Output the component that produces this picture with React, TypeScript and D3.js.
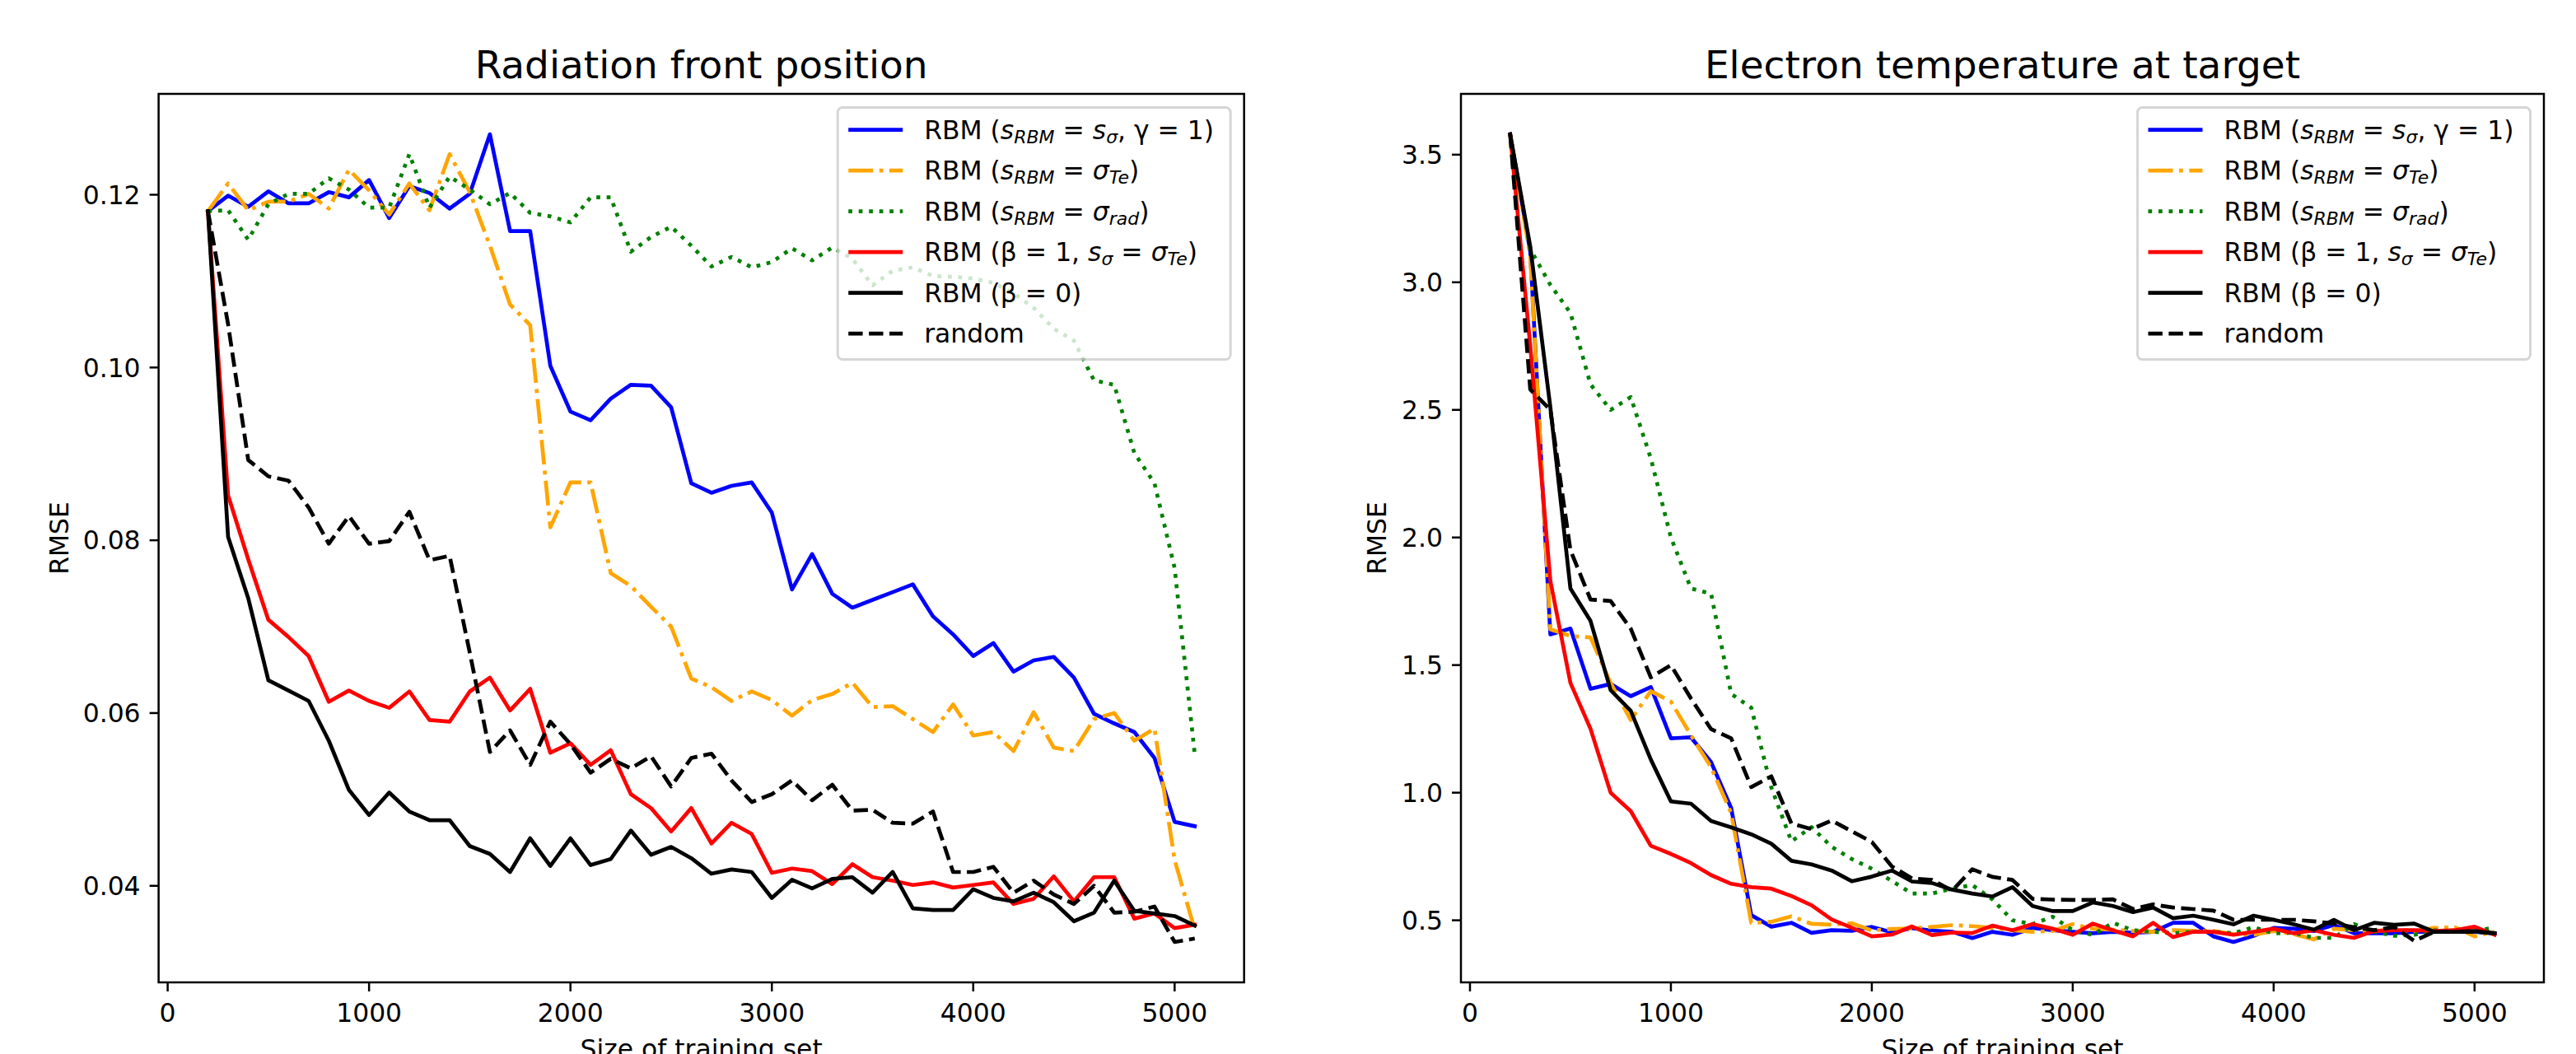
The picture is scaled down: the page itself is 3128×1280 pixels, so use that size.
import * as d3 from "d3";
import React from "react";

// training set sizes (x values shared by every curve)
const sizes = [
  200, 300, 400, 500, 600, 700, 800, 900, 1000, 1100,
  1200, 1300, 1400, 1500, 1600, 1700, 1800, 1900, 2000, 2100,
  2200, 2300, 2400, 2500, 2600, 2700, 2800, 2900, 3000, 3100,
  3200, 3300, 3400, 3500, 3600, 3700, 3800, 3900, 4000, 4100,
  4200, 4300, 4400, 4500, 4600, 4700, 4800, 4900, 5000, 5100,
];

// --- Radiation front position ---
const radGamma = [
  0.1181, 0.1199, 0.1186, 0.1204, 0.119, 0.119, 0.1203, 0.1197, 0.1217, 0.1173,
  0.121, 0.1202, 0.1184, 0.1201, 0.127, 0.1158, 0.1158, 0.1002, 0.0949, 0.0939,
  0.0964, 0.098, 0.0979, 0.0954, 0.0866, 0.0855, 0.0863, 0.0867, 0.0832, 0.0743,
  0.0784, 0.0738, 0.0722, 0.0731, 0.074, 0.0749, 0.0712, 0.0691, 0.0666, 0.0681,
  0.0648, 0.0661, 0.0665, 0.0641, 0.0599, 0.0588, 0.0578, 0.0548, 0.0474, 0.0469,
];
const radSigTe = [
  0.1181, 0.1213, 0.1182, 0.1192, 0.1192, 0.1201, 0.1184, 0.1229, 0.1205, 0.1177,
  0.1213, 0.1182, 0.1247, 0.1203, 0.1141, 0.1073, 0.1049, 0.0815, 0.0867, 0.0867,
  0.0762, 0.0747, 0.0723, 0.07, 0.064, 0.063, 0.0614, 0.0625, 0.0615, 0.0597,
  0.0615, 0.0622, 0.0635, 0.0607, 0.0608, 0.0593, 0.0578, 0.061, 0.0574, 0.0578,
  0.0556, 0.0601, 0.056, 0.0556, 0.0593, 0.06, 0.0568, 0.0582, 0.043, 0.0349,
];
const radSigRad = [
  0.1181, 0.1182, 0.1148, 0.1189, 0.1201, 0.1201, 0.1219, 0.1206, 0.1185, 0.1185,
  0.1247, 0.1185, 0.1221, 0.1206, 0.1189, 0.1202, 0.1179, 0.1175, 0.1168, 0.1197,
  0.1197, 0.1134, 0.1151, 0.1163, 0.1141, 0.1117, 0.1128, 0.1116, 0.1122, 0.1138,
  0.1124, 0.1139, 0.1126, 0.1095, 0.1112, 0.1116, 0.1106, 0.1105, 0.1103, 0.1098,
  0.1086, 0.1069, 0.1045, 0.1031, 0.0985, 0.098, 0.0901, 0.0866, 0.0768, 0.0552,
];
const radBeta1 = [
  0.1181, 0.0852, 0.0778, 0.0708, 0.0688, 0.0666, 0.0613, 0.0626, 0.0614, 0.0606,
  0.0625, 0.0592, 0.059, 0.0625, 0.0641, 0.0603, 0.0628, 0.0554, 0.0565, 0.054,
  0.0557, 0.0506, 0.049, 0.0463, 0.049, 0.0449, 0.0473, 0.046, 0.0415, 0.042,
  0.0417, 0.0402, 0.0425, 0.041, 0.0406, 0.0401, 0.0404, 0.0398, 0.0401, 0.0404,
  0.0379, 0.0385, 0.0411, 0.0382, 0.041, 0.041, 0.0362, 0.0368, 0.0351, 0.0355,
];
const radBeta0 = [
  0.1181, 0.0804, 0.0733, 0.0638, 0.0626, 0.0614, 0.0568, 0.0511, 0.0482, 0.0508,
  0.0486, 0.0476, 0.0476, 0.0446, 0.0437, 0.0416, 0.0455, 0.0423, 0.0455, 0.0424,
  0.0431, 0.0464, 0.0436, 0.0445, 0.0432, 0.0414, 0.0419, 0.0416, 0.0386, 0.0407,
  0.0397, 0.0408, 0.041, 0.0392, 0.0416, 0.0374, 0.0372, 0.0372, 0.0396, 0.0386,
  0.0382, 0.0392, 0.0381, 0.0359, 0.0369, 0.0406, 0.0371, 0.0368, 0.0365, 0.0354,
];
const radRandom = [
  0.1181, 0.105, 0.0893, 0.0874, 0.0869, 0.0838, 0.0796, 0.0828, 0.0796, 0.0799,
  0.0833, 0.0777, 0.0782, 0.067, 0.0555, 0.058, 0.054, 0.059, 0.0564, 0.0531,
  0.0547, 0.0536, 0.055, 0.0515, 0.0548, 0.0553, 0.0522, 0.0497, 0.0506, 0.0522,
  0.0499, 0.0517, 0.0487, 0.0488, 0.0473, 0.0472, 0.0486, 0.0416, 0.0416, 0.0422,
  0.0392, 0.0406, 0.039, 0.0379, 0.04, 0.0369, 0.037, 0.0376, 0.0335, 0.0339,
];

// --- Electron temperature at target ---
const teGamma = [
  3.58, 3.12, 1.62, 1.643, 1.407, 1.426, 1.378, 1.414, 1.213, 1.217,
  1.12, 0.94, 0.52, 0.475, 0.49, 0.451, 0.461, 0.459, 0.474, 0.453,
  0.469, 0.46, 0.455, 0.43, 0.455, 0.443, 0.47, 0.461, 0.455, 0.449,
  0.455, 0.451, 0.455, 0.49, 0.49, 0.437, 0.415, 0.439, 0.47, 0.467,
  0.458, 0.482, 0.449, 0.449, 0.449, 0.455, 0.455, 0.455, 0.455, 0.449,
];
const teSigTe = [
  3.58, 3.1, 1.64, 1.614, 1.608, 1.43, 1.285, 1.398, 1.357, 1.225,
  1.1, 0.92, 0.49, 0.494, 0.516, 0.486, 0.483, 0.488, 0.46, 0.466,
  0.468, 0.474, 0.481, 0.477, 0.471, 0.461, 0.455, 0.458, 0.485, 0.467,
  0.463, 0.458, 0.455, 0.461, 0.458, 0.458, 0.446, 0.443, 0.458, 0.446,
  0.425, 0.467, 0.461, 0.458, 0.463, 0.458, 0.47, 0.473, 0.437, 0.455,
];
const teSigRad = [
  3.58, 3.13, 2.99, 2.88, 2.6, 2.5, 2.55, 2.31, 2.0, 1.8,
  1.78, 1.387, 1.333, 1.02, 0.809, 0.865, 0.788, 0.74, 0.702, 0.654,
  0.605, 0.605, 0.624, 0.638, 0.582, 0.5, 0.485, 0.514, 0.461, 0.443,
  0.49, 0.461, 0.455, 0.449, 0.455, 0.455, 0.449, 0.473, 0.449, 0.451,
  0.431, 0.431, 0.485, 0.455, 0.439, 0.443, 0.461, 0.455, 0.455, 0.473,
];
const teBeta1 = [
  3.58, 2.75, 1.83, 1.43, 1.25, 1.0, 0.928, 0.792, 0.76, 0.724,
  0.677, 0.643, 0.63, 0.624, 0.595, 0.559, 0.503, 0.471, 0.437, 0.444,
  0.476, 0.442, 0.452, 0.45, 0.479, 0.461, 0.485, 0.467, 0.443, 0.487,
  0.461, 0.437, 0.49, 0.434, 0.455, 0.455, 0.443, 0.455, 0.467, 0.449,
  0.461, 0.443, 0.431, 0.458, 0.461, 0.461, 0.458, 0.461, 0.475, 0.443,
];
const teBeta0 = [
  3.58, 3.14, 2.51, 1.8, 1.673, 1.402, 1.321, 1.13, 0.966, 0.957,
  0.889, 0.864, 0.837, 0.8, 0.733, 0.719, 0.695, 0.653, 0.671, 0.695,
  0.652, 0.646, 0.62, 0.605, 0.593, 0.63, 0.556, 0.536, 0.536, 0.57,
  0.556, 0.532, 0.55, 0.508, 0.518, 0.502, 0.484, 0.518, 0.502, 0.484,
  0.463, 0.502, 0.461, 0.49, 0.482, 0.487, 0.455, 0.455, 0.458, 0.449,
];
const teRandom = [
  3.58, 2.58, 2.5, 1.95, 1.757, 1.751, 1.643, 1.452, 1.5, 1.369,
  1.249, 1.213, 1.022, 1.064, 0.879, 0.857, 0.891, 0.849, 0.807, 0.711,
  0.664, 0.658, 0.616, 0.7, 0.67, 0.658, 0.584, 0.581, 0.58, 0.58,
  0.582, 0.544, 0.562, 0.55, 0.544, 0.538, 0.502, 0.502, 0.502, 0.502,
  0.496, 0.487, 0.473, 0.461, 0.473, 0.419, 0.455, 0.455, 0.455, 0.449,
];

const xTicks = [0, 1000, 2000, 3000, 4000, 5000];
const radTicks = [0.04, 0.06, 0.08, 0.1, 0.12];
const teTicks = [0.5, 1.0, 1.5, 2.0, 2.5, 3.0, 3.5];

// legend labels, split into plain / italic / subscript pieces (mathtext look)
type Seg = { t: string; it?: boolean; sub?: boolean };
const labels: Seg[][] = [
  [{ t: "RBM (" }, { t: "s", it: true }, { t: "RBM", it: true, sub: true }, { t: " = " }, { t: "s", it: true }, { t: "σ", it: true, sub: true }, { t: ", γ = 1)" }],
  [{ t: "RBM (" }, { t: "s", it: true }, { t: "RBM", it: true, sub: true }, { t: " = " }, { t: "σ", it: true }, { t: "Te", it: true, sub: true }, { t: ")" }],
  [{ t: "RBM (" }, { t: "s", it: true }, { t: "RBM", it: true, sub: true }, { t: " = " }, { t: "σ", it: true }, { t: "rad", it: true, sub: true }, { t: ")" }],
  [{ t: "RBM (β = 1, " }, { t: "s", it: true }, { t: "σ", it: true, sub: true }, { t: " = " }, { t: "σ", it: true }, { t: "Te", it: true, sub: true }, { t: ")" }],
  [{ t: "RBM (β = 0)" }],
  [{ t: "random" }],
];

const colors = ["blue", "orange", "green", "red", "black", "black"];
const dashes = [null, "30.1 7.5 4.7 7.5", "4.7 7.8", null, null, "17.4 7.5"];

const FONT = "DejaVu Sans, sans-serif";
const FS = 31.4;
const LW = 4.7;
const TOP = 114;
const BOTTOM = 1193;

function Panel({ id, left, right, title, series, yTicks, yFmt, ylabelGap }) {
  const x = d3.scaleLinear().domain([-45, 5345]).range([left, right]);
  const all = series.flat();
  const lo = d3.min(all), hi = d3.max(all);
  const m = (hi - lo) * 0.05;
  const y = d3.scaleLinear().domain([lo - m, hi + m]).range([BOTTOM, TOP]);
  const line = d3.line<number>().x((_, i) => x(sizes[i])).y((d) => y(d));
  const fmt = d3.format(yFmt);
  const cx = (left + right) / 2;

  const legW = 477, legH = 306;
  const legX = right - 16.5 - legW;
  const legY = TOP + 16.5;

  return (
    <g>
      <defs>
        <clipPath id={id}>
          <rect x={left} y={TOP} width={right - left} height={BOTTOM - TOP} />
        </clipPath>
      </defs>
      <text x={cx} y={95} textAnchor="middle" fontSize={47}>{title}</text>
      <g clipPath={`url(#${id})`}>
        {series.map((s, i) => (
          <path key={i} d={line(s)} fill="none" stroke={colors[i]} strokeWidth={LW}
            strokeDasharray={dashes[i] || undefined}
            strokeLinejoin="round" strokeLinecap={dashes[i] ? "butt" : "square"} />
        ))}
      </g>
      <rect x={left} y={TOP} width={right - left} height={BOTTOM - TOP} fill="none" stroke="black" strokeWidth={2.5} />
      {xTicks.map((t) => (
        <g key={t}>
          <line x1={x(t)} x2={x(t)} y1={BOTTOM} y2={BOTTOM + 11} stroke="black" strokeWidth={2.5} />
          <text x={x(t)} y={1241} textAnchor="middle" fontSize={FS}>{t}</text>
        </g>
      ))}
      {yTicks.map((t) => (
        <g key={t}>
          <line x1={left - 11} x2={left} y1={y(t)} y2={y(t)} stroke="black" strokeWidth={2.5} />
          <text x={left - 22} y={y(t)} dy="0.36em" textAnchor="end" fontSize={FS}>{fmt(t)}</text>
        </g>
      ))}
      <text x={cx} y={1285} textAnchor="middle" fontSize={FS}>Size of training set</text>
      <text transform={`translate(${left - ylabelGap},${(TOP + BOTTOM) / 2}) rotate(-90)`} textAnchor="middle" fontSize={FS}>RMSE</text>

      <g>
        <rect x={legX} y={legY} width={legW} height={legH} rx={6} fill="white" stroke="#cccccc"
          strokeWidth={3} opacity={0.8} />
        {labels.map((segs, i) => {
          const ry = legY + 27.2 + i * 49.5;
          let prevSub = false;
          return (
            <g key={i}>
              <line x1={legX + 13} x2={legX + 79} y1={ry} y2={ry} stroke={colors[i]} strokeWidth={LW}
                strokeDasharray={dashes[i] || undefined} />
              <text x={legX + 105} y={ry + 11} fontSize={FS}>
                {segs.map((s, j) => {
                  const shift = (s.sub ? 5 : 0) - (prevSub ? 5 : 0);
                  prevSub = !!s.sub;
                  return (
                    <tspan key={j} dy={shift} fontStyle={s.it ? "italic" : "normal"}
                      fontSize={s.sub ? FS * 0.7 : FS}>{s.t}</tspan>
                  );
                })}
              </text>
            </g>
          );
        })}
      </g>
    </g>
  );
}

export default function App() {
  return (
    <svg width={3128} height={1280} style={{ position: "absolute", left: 0, top: 0, background: "white" }}
      fontFamily={FONT} fill="black">
      <rect width={3128} height={1280} fill="white" />
      <Panel id="clipRad" left={192.6} right={1510.7} title="Radiation front position"
        series={[radGamma, radSigTe, radSigRad, radBeta1, radBeta0, radRandom]}
        yTicks={radTicks} yFmt=".2f" ylabelGap={110} />
      <Panel id="clipTe" left={1774} right={3089} title="Electron temperature at target"
        series={[teGamma, teSigTe, teSigRad, teBeta1, teBeta0, teRandom]}
        yTicks={teTicks} yFmt=".1f" ylabelGap={91} />
    </svg>
  );
}
